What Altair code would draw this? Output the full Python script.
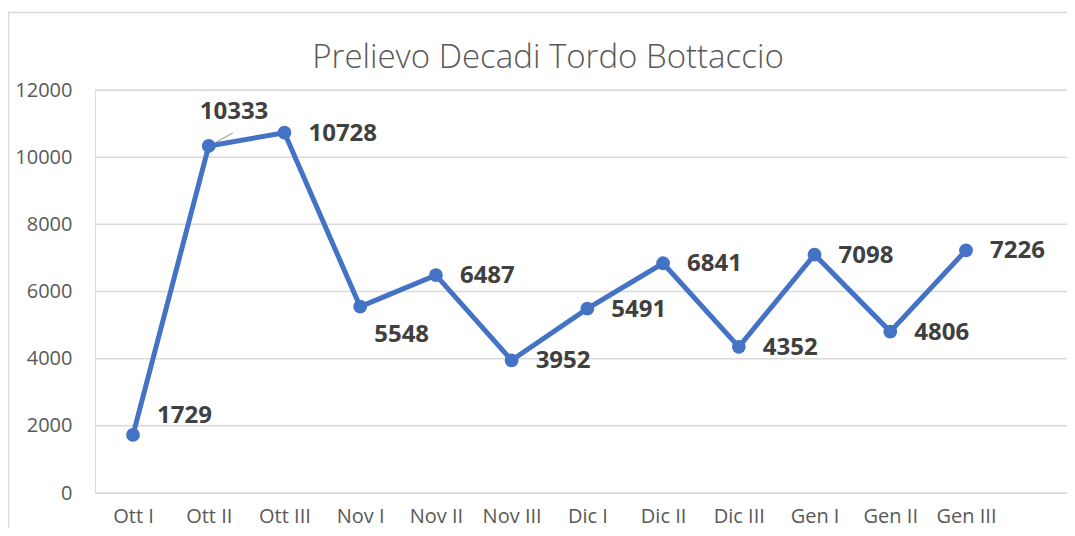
import altair as alt
import pandas as pd

categories = ["Ott I", "Ott II", "Ott III", "Nov I", "Nov II", "Nov III",
              "Dic I", "Dic II", "Dic III", "Gen I", "Gen II", "Gen III"]
values = [1729, 10333, 10728, 5548, 6487, 3952, 5491, 6841, 4352, 7098, 4806, 7226]
y_ticks = [0, 2000, 4000, 6000, 8000, 10000, 12000]
title_text = "Prelievo Decadi Tordo Bottaccio"

df = pd.DataFrame({"cat": categories, "val": values})
grid_df = pd.DataFrame({"g": y_ticks})

BLUE = "#4472C4"
W, H = 972, 403

x = alt.X("cat:N", sort=categories,
          scale=alt.Scale(type="point", range=[38, 871], padding=0),
          axis=alt.Axis(title=None, labelAngle=0, ticks=False, domain=False,
                        labelFont="Open Sans", labelFontSize=20, labelColor="#595959",
                        labelPadding=13, grid=False))
y = alt.Y("val:Q",
          scale=alt.Scale(domain=[0, 12000], nice=False),
          axis=alt.Axis(title=None, values=y_ticks, format="d",
                        ticks=False, domain=False, grid=False,
                        labelFont="Open Sans", labelFontSize=20,
                        labelColor="#595959", labelPadding=23))

base = alt.Chart(df)

grid = alt.Chart(grid_df).mark_rule(color="#D9D9D9", strokeWidth=1.5).encode(
    y=alt.Y("g:Q", scale=alt.Scale(domain=[0, 12000], nice=False)),
    x=alt.value(0), x2=alt.value(1000))

line = base.mark_line(color=BLUE, strokeWidth=5).encode(x=x, y=y)
pts = base.mark_point(filled=True, color=BLUE, size=190, opacity=1).encode(x=x, y=y)

lbl_kw = dict(font="Open Sans", fontSize=24, fontWeight="bold", color="#404040",
              align="left", baseline="middle")
special = ["Ott I", "Ott II", "Nov I"]

def txt(dx, dy, flt):
    return base.transform_filter(flt).mark_text(dx=dx, dy=dy, **lbl_kw).encode(
        x=alt.X("cat:N", sort=categories), y="val:Q", text="val:Q")

t_default = txt(24, 1, ~alt.FieldOneOfPredicate(field="cat", oneOf=special))
t_ott1 = txt(24, -19, alt.datum.cat == "Ott I")
t_ott2 = txt(-9, -34, alt.datum.cat == "Ott II")
t_nov1 = txt(14, 28, alt.datum.cat == "Nov I")

leader = base.transform_filter(alt.datum.cat == "Ott II").mark_rule(
    color="#A6A6A6", strokeWidth=1.2, xOffset=2, yOffset=-1, x2Offset=24, y2Offset=-13
).encode(x=alt.X("cat:N", sort=categories), y="val:Q",
         x2=alt.X2("cat"), y2=alt.Y2("val"))

border = alt.Chart(alt.Data(values=[{"a": 1}])).mark_rect(
    fill=None, stroke="#D9D9D9", strokeWidth=1.5
).encode(x=alt.value(-86.5), x2=alt.value(1200), y=alt.value(-77.5), y2=alt.value(700))

title = alt.Chart(alt.Data(values=[{"t": title_text}])).mark_text(
    font="Open Sans", fontSize=33, fontWeight=300, color="#595959",
    align="center", baseline="middle"
).encode(x=alt.value(453), y=alt.value(-32), text="t:N")

chart = alt.layer(border, title, grid, line, leader, pts, t_default, t_ott1, t_ott2, t_nov1).properties(
    width=W, height=H,
    autosize=alt.AutoSizeParams(type="none"),
    padding={"left": 87, "top": 82, "right": 0, "bottom": 35},
).configure_view(stroke=None).configure(background="white")

chart.save("out.html", embed_options={"renderer": "svg", "actions": False})
